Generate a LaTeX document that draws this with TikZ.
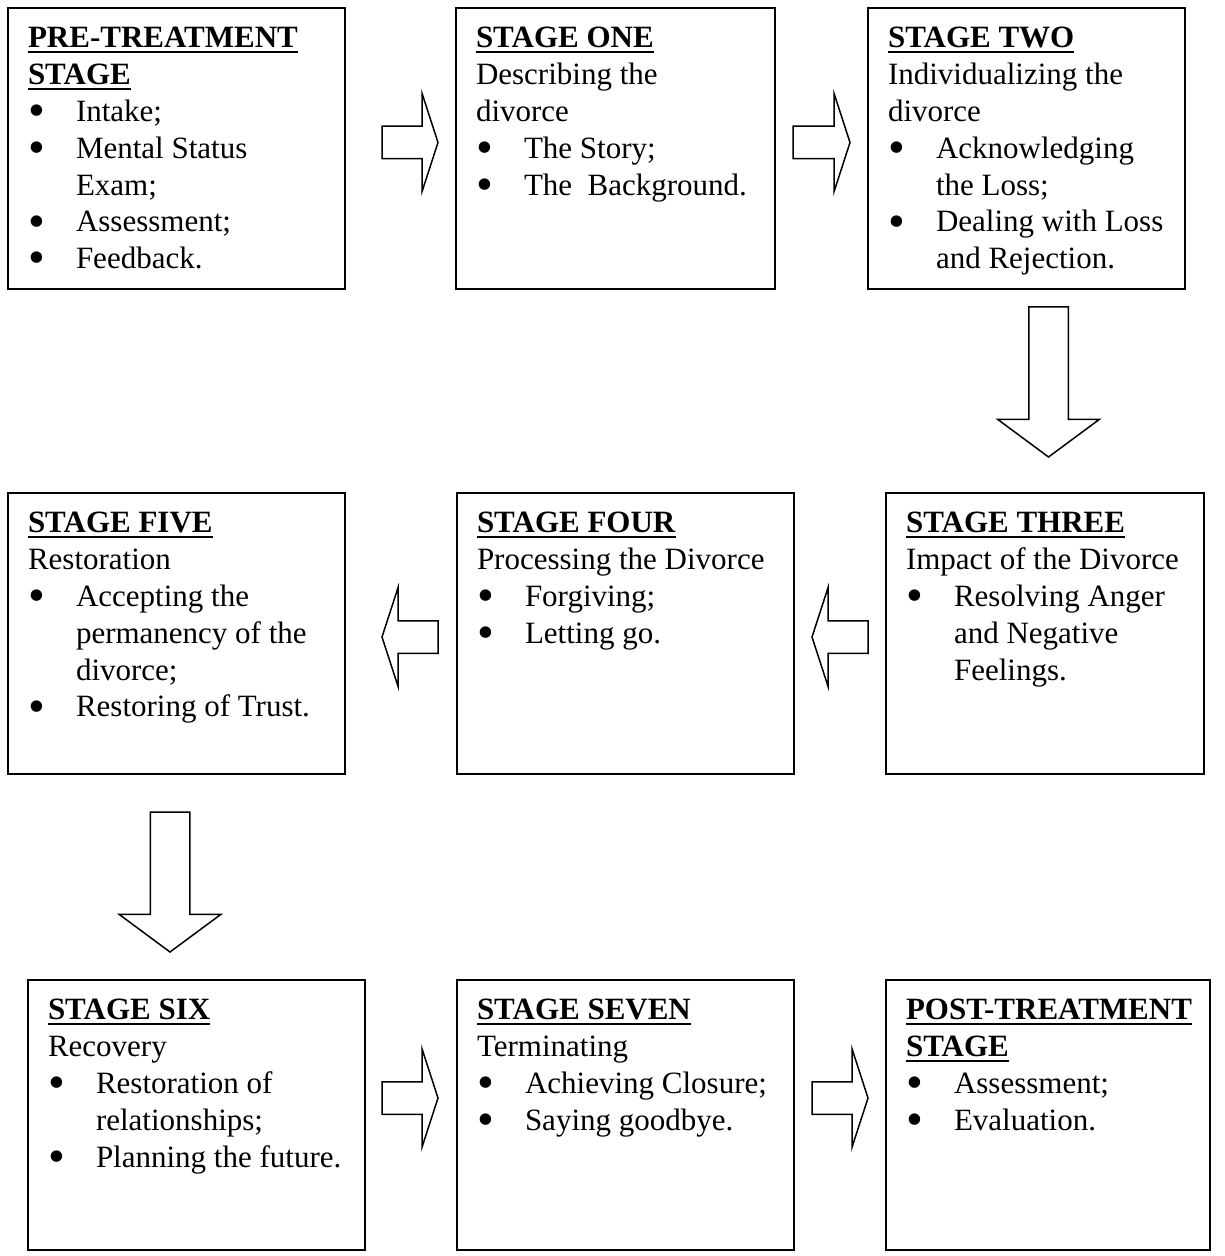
\documentclass[tikz,border=0pt]{standalone}
\usepackage{fontspec}
\setmainfont{Liberation Serif}
\usetikzlibrary{shapes.arrows}

\newlength{\ttlwd}
\newcommand{\ttl}[1]{\settowidth{\ttlwd}{\textbf{#1}}\textbf{#1}\llap{\rule[-2.6pt]{\ttlwd}{0.9pt}}}
\newcommand{\bul}{\makebox[24pt][l]{\hspace*{0.3pt}\raisebox{-2.6pt}{\scalebox{1.55}{\textbullet}}}}
\newcommand{\cnt}{\hspace*{24pt}}
\newcommand{\stagetext}[3]{\parbox[t][#2][t]{#1}{\vspace*{7.1pt}\begin{tabular}[t]{@{}l@{}}#3\end{tabular}}}

\begin{document}
\begin{tikzpicture}[x=0.5pt, y=-0.5pt]
\tikzstyle{stagebox}=[draw, line width=0.75pt, anchor=north west, inner xsep=10pt, inner ysep=0pt, outer sep=0pt, font=\fontsize{15.5}{18.4}\selectfont]
\tikzstyle{blockarrow}=[single arrow, draw, line width=0.75pt, inner xsep=0pt, outer sep=0pt, anchor=tail]
\tikzstyle{sidearrow}=[blockarrow, inner ysep=7.75pt, single arrow head extend=16.5pt, single arrow tip angle=144, minimum height=28pt]
\tikzstyle{downarrow}=[blockarrow, inner ysep=9.5pt, single arrow head extend=15.5pt, single arrow tip angle=107, rotate=-90]

\useasboundingbox (0,0) rectangle (1224,1256);

\node[stagebox] (pre) at (8,8) {\stagetext{148.5pt}{140.5pt}{%
  \ttl{PRE-TREATMENT}\\ \ttl{STAGE}\\
  \bul Intake;\\ \bul Mental Status\\ \cnt Exam;\\ \bul Assessment;\\ \bul Feedback.}};
\node[stagebox] (one) at (456,8) {\stagetext{139.5pt}{140.5pt}{%
  \ttl{STAGE ONE}\\ Describing the\\ divorce\\
  \bul The Story;\\ \bul The\ \ Background.}};
\node[stagebox] (two) at (868,8) {\stagetext{138.5pt}{140.5pt}{%
  \ttl{STAGE TWO}\\ Individualizing the\\ divorce\\
  \bul Acknowledging\\ \cnt the Loss;\\ \bul Dealing with Loss\\ \cnt and Rejection.}};

\node[stagebox] (three) at (886,493) {\stagetext{139pt}{140.5pt}{%
  \ttl{STAGE THREE}\\ Impact of the Divorce\\
  \bul Resolving Anger\\ \cnt and Negative\\ \cnt Feelings.}};
\node[stagebox] (four) at (457,493) {\stagetext{148.5pt}{140.5pt}{%
  \ttl{STAGE FOUR}\\ Processing the Divorce\\
  \bul Forgiving;\\ \bul Letting go.}};
\node[stagebox] (five) at (8,493) {\stagetext{148.5pt}{140.5pt}{%
  \ttl{STAGE FIVE}\\ Restoration\\
  \bul Accepting the\\ \cnt permanency of the\\ \cnt divorce;\\ \bul Restoring of Trust.}};

\node[stagebox] (six) at (28,980) {\stagetext{148.5pt}{135pt}{%
  \ttl{STAGE SIX}\\ Recovery\\
  \bul Restoration of\\ \cnt relationships;\\ \bul Planning the future.}};
\node[stagebox] (seven) at (457,980) {\stagetext{148.5pt}{135pt}{%
  \ttl{STAGE SEVEN}\\ Terminating\\
  \bul Achieving Closure;\\ \bul Saying goodbye.}};
\node[stagebox] (post) at (886,980) {\stagetext{142pt}{135pt}{%
  \ttl{POST-TREATMENT}\\ \ttl{STAGE}\\
  \bul Assessment;\\ \bul Evaluation.}};

\node[sidearrow] (pre-one) at (382,142.5) {};
\node[sidearrow, minimum height=28.5pt] (one-two) at (793,142.5) {};
\node[downarrow, minimum height=75pt] (two-three) at (1048.5,307) {};
\node[sidearrow, rotate=180] (three-four) at (868,637) {};
\node[sidearrow, rotate=180] (four-five) at (438,637) {};
\node[downarrow, minimum height=70pt] (five-six) at (170,812) {};
\node[sidearrow] (six-seven) at (382,1098) {};
\node[sidearrow] (seven-post) at (812,1098) {};

\end{tikzpicture}
\end{document}
